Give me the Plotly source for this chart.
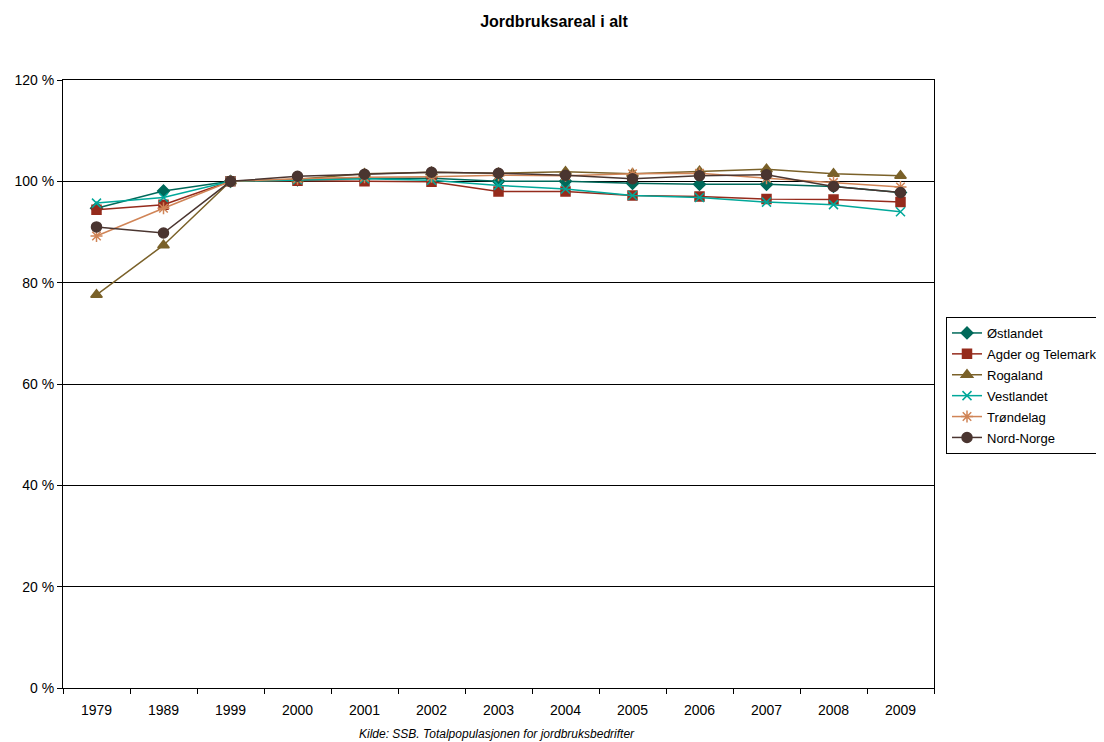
import plotly.graph_objects as go

years = ["1979", "1989", "1999", "2000", "2001", "2002", "2003", "2004", "2005", "2006", "2007", "2008", "2009"]

ostlandet = [94.7, 98.1, 100.0, 100.3, 100.6, 100.6, 100.0, 100.0, 99.6, 99.4, 99.4, 99.0, 97.8]
agder = [94.4, 95.4, 100.0, 100.1, 100.0, 99.9, 98.0, 98.0, 97.2, 97.0, 96.5, 96.4, 95.9]
rogaland = [77.6, 87.4, 100.0, 100.4, 101.5, 101.8, 101.6, 101.9, 101.5, 102.0, 102.4, 101.5, 101.1]
vestlandet = [95.7, 96.8, 100.0, 100.3, 100.5, 100.2, 99.2, 98.5, 97.2, 96.8, 95.9, 95.4, 94.0]
trondelag = [89.2, 94.7, 100.0, 100.5, 100.8, 100.9, 101.2, 101.1, 101.5, 101.6, 100.6, 99.8, 98.9]
nordnorge = [91.0, 89.8, 100.0, 101.0, 101.4, 101.8, 101.6, 101.2, 100.5, 101.1, 101.3, 99.0, 97.8]

y_ticks = [0, 20, 40, 60, 80, 100, 120]
y_tick_labels = ["0 %", "20 %", "40 %", "60 %", "80 %", "100 %", "120 %"]

series = [
    ("Østlandet", ostlandet, "#00695A", "diamond", 9),
    ("Agder og Telemark", agder, "#952B1C", "square", 9),
    ("Rogaland", rogaland, "#7A6129", "triangle-up", 10),
    ("Vestlandet", vestlandet, "#00A89A", "x-thin-open", 9),
    ("Trøndelag", trondelag, "#D08456", "asterisk-open", 10),
    ("Nord-Norge", nordnorge, "#4A3530", "circle", 10),
]

# page body has an 8px margin; figure is sized/placed to compensate
W, H = 1096, 734
L, R, T, B = 55, 170, 72, 54
plot_w = W - L - R
plot_h = H - T - B

fig = go.Figure()
for name, vals, color, sym, size in series:
    fig.add_trace(go.Scatter(
        x=years, y=vals, name=name, mode="lines+markers", legendgroup=name,
        line=dict(color=color, width=1.5),
        marker=dict(symbol=sym, size=size, color=color,
                    line=dict(color=color, width=1.5)),
    ))

fig.update_layout(
    width=W, height=H,
    paper_bgcolor="white", plot_bgcolor="white",
    margin=dict(l=L, r=R, t=T, b=B, autoexpand=False),
    font=dict(family="Liberation Sans, Arial, sans-serif", size=13, color="black"),
    title=dict(text="<b>Jordbruksareal i alt</b>", x=546 / W, xref="container",
               xanchor="center", y=1 - 13 / H, yref="container", yanchor="middle",
               font=dict(size=16, color="black")),
    showlegend=True,
    legend=dict(x=(938 - L) / plot_w, y=(T + plot_h - 309) / plot_h,
                xanchor="left", yanchor="top",
                bordercolor="black", borderwidth=1, bgcolor="white",
                font=dict(size=13), tracegroupgap=1, itemwidth=30),
    annotations=[dict(
        text="<i>Kilde: SSB. Totalpopulasjonen for jordbruksbedrifter</i>",
        x=(489 - L) / plot_w, xref="paper", y=-46 / plot_h, yref="paper",
        showarrow=False, font=dict(size=12), xanchor="center", yanchor="middle")],
)

fig.update_xaxes(
    type="category", range=[-0.5, len(years) - 0.5],
    showline=True, linecolor="black", linewidth=1,
    mirror=True, ticks="outside", tickson="boundaries", ticklen=5,
    tickcolor="black", showgrid=False, tickfont=dict(size=14),
    ticklabelstandoff=9,
)
fig.update_yaxes(
    range=[0, 120], tickvals=y_ticks, ticktext=y_tick_labels,
    showline=True, linecolor="black", linewidth=1, mirror=True,
    ticks="outside", ticklen=5, tickcolor="black",
    showgrid=True, gridcolor="black", gridwidth=1, zeroline=False,
    tickfont=dict(size=14),
)

fig.write_html("out.html")
